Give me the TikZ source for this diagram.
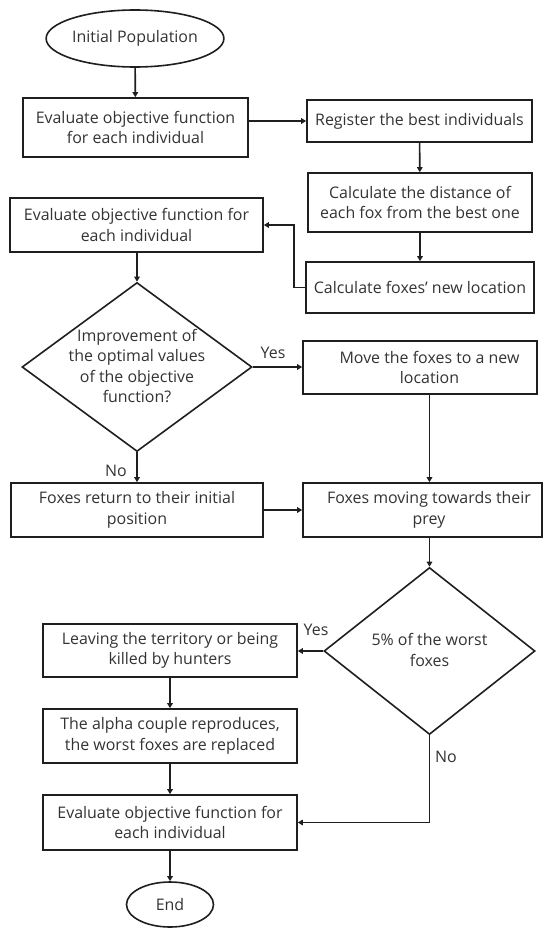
\documentclass[tikz,border=0pt]{standalone}
\usepackage{fontspec}
\setmainfont{Open Sans}
\usetikzlibrary{shapes.geometric,arrows.meta}
\begin{document}
\begin{tikzpicture}[x=1bp,y=-1bp,
  every node/.style={font=\fontsize{16}{20.5}\selectfont, text=black!80},
  box/.style={draw=black!88, line width=1.6bp, rectangle, inner sep=0pt, align=center},
  oval/.style={draw=black!88, line width=1.6bp, ellipse, inner sep=0pt},
  dia/.style={draw=black!88, line width=1.6bp, diamond, inner sep=0pt},
  txt/.style={align=center, inner sep=0pt},
  lbl/.style={inner sep=0pt},
  arr/.style={draw=black!88, line width=1.6bp, -{Triangle[length=5bp,width=5.5bp]}}]
\useasboundingbox (0,0) rectangle (550,938);
\fill[white] (0,0) rectangle (550,938);

\node[oval, minimum width=176bp, minimum height=57bp] (init) at (135,38.5) {Initial Population};
\node[box, minimum width=225bp, minimum height=59bp] (e1) at (135.5,127.5) {Evaluate objective function\\for each individual};
\node[box, minimum width=225bp, minimum height=42bp] (reg) at (419.5,121) {Register the best individuals};
\node[box, minimum width=224bp, minimum height=59bp] (dist) at (420,202.5) {Calculate the distance of\\each fox from the best one};
\node[box, minimum width=228bp, minimum height=51bp] (nl) at (420,287.5) {Calculate foxes' new location};
\node[box, minimum width=253bp, minimum height=54bp] (e2) at (136.5,225) {Evaluate objective function for\\each individual};
\node[dia, minimum width=230bp, minimum height=169bp] (d1) at (137,367) {};
\node[txt] (d1t) at (137,366) {Improvement of\\the optimal values\\of the objective\\function?};
\node[box, minimum width=234bp, minimum height=53bp] (mv) at (420,367.5) {\hspace*{19bp}Move the foxes to a new\\\hspace*{19bp}location};
\node[box, minimum width=252bp, minimum height=54bp] (fr) at (137,510) {Foxes return to their initial\\position};
\node[box, minimum width=239bp, minimum height=54bp] (fm) at (422.5,510) {\hspace*{13bp}Foxes moving towards their\\\hspace*{13bp}prey};
\node[dia, minimum width=211bp, minimum height=167bp] (d2) at (429.5,651) {};
\node[txt] (d2t) at (429.5,650) {5\% of the worst\\foxes};
\node[box, minimum width=254bp, minimum height=53bp] (lv) at (170,650.5) {Leaving the territory or being\\killed by hunters};
\node[box, minimum width=254bp, minimum height=54bp] (al) at (170,736) {The alpha couple reproduces,\\the worst foxes are replaced};
\node[box, minimum width=254bp, minimum height=55bp] (e3) at (170,822.5) {Evaluate objective function for\\each individual};
\node[oval, minimum width=87bp, minimum height=45bp] (end) at (170,904.5) {End};

\coordinate (cx) at (429.5,0);

\draw[arr] (init) -- (e1);
\draw[arr] (reg.west -| e1.east) -- (reg.west);
\draw[arr] (reg) -- (dist);
\draw[arr] (dist) -- (nl);
\draw[arr] (nl.west) -- ++(-11,0) |- (e2.east);
\draw[arr] (e2.south -| d1.north) -- (d1.north);
\draw[arr] (d1.east) -- (mv.west |- d1.east);
\node[lbl] (yes1) at (273,353) {Yes};
\draw[arr] (d1.south) -- (fr.north -| d1.south);
\node[lbl] (no1) at (116,471) {No};
\draw[arr] (fr.east) -- (fm.west);
\draw[arr] (mv.south -| cx) -- (fm.north -| cx);
\draw[arr] (fm.south -| cx) -- (d2.north);
\draw[arr] (d2.west) -- (lv.east |- d2.west);
\node[lbl] (yes2) at (316,630) {Yes};
\draw[arr] (lv) -- (al);
\draw[arr] (al) -- (e3);
\draw[arr] (e3) -- (end);
\draw[arr] (d2.south) |- (e3.east);
\node[lbl] (no2) at (446,757) {No};
\end{tikzpicture}
\end{document}
